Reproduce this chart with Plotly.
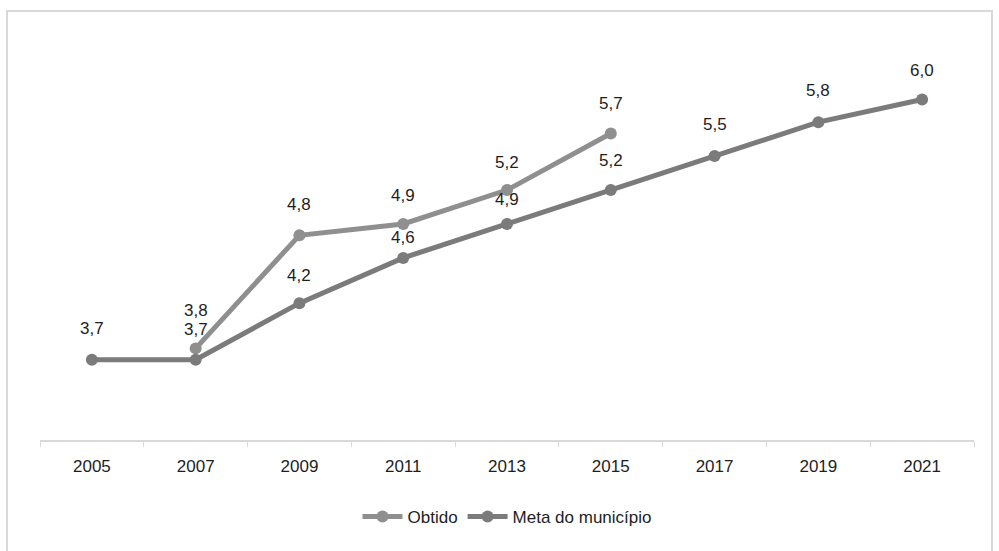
import plotly.graph_objects as go

anos = ["2005", "2007", "2009", "2011", "2013", "2015", "2017", "2019", "2021"]
obtido_anos = ["2007", "2009", "2011", "2013", "2015"]
obtido_vals = [3.8, 4.8, 4.9, 5.2, 5.7]
meta_anos = ["2005", "2007", "2009", "2011", "2013", "2015", "2017", "2019", "2021"]
meta_vals = [3.7, 3.7, 4.2, 4.6, 4.9, 5.2, 5.5, 5.8, 6.0]

# label offsets above the points, in pixels (style only)
obtido_label_shift = [38, 31, 28, 28, 30]
meta_label_shift = [31, 30, 28, 20, 24, 30, 32, 32, 29]

FONT = "Liberation Sans, Arial"
TXT = "#1e1e1e"
FS = 17


def fmt(v):
    return f"{v:.1f}".replace(".", ",")


fig = go.Figure()
fig.add_trace(go.Scatter(
    x=obtido_anos, y=obtido_vals, name="Obtido", mode="lines+markers",
    line=dict(color="#8f8f8f", width=5), marker=dict(size=12, color="#8f8f8f"),
))
fig.add_trace(go.Scatter(
    x=meta_anos, y=meta_vals, name="Meta do município", mode="lines+markers",
    line=dict(color="#7b7b7b", width=5), marker=dict(size=12, color="#7b7b7b"),
))

for xs, ys, shifts in [(obtido_anos, obtido_vals, obtido_label_shift),
                       (meta_anos, meta_vals, meta_label_shift)]:
    for xv, yv, sh in zip(xs, ys, shifts):
        fig.add_annotation(x=anos.index(xv), y=yv, xref="x", yref="y", text=fmt(yv),
                           showarrow=False, yanchor="middle", yshift=sh, borderpad=0,
                           font=dict(family=FONT, size=FS, color=TXT))

L, R, T, B = 40, 974, 43, 440
W, H = 999, 551
pw, ph = R - L, B - T
fig.add_shape(type="rect", xref="paper", yref="paper",
              x0=(7 - L) / pw, x1=(992 - L) / pw,
              y0=(B - 560) / ph, y1=(B - 11) / ph,
              line=dict(color="#d9d9d9", width=2), layer="below")

fig.update_layout(
    width=W, height=H,
    margin=dict(l=L, r=W - R, t=T, b=H - B),
    paper_bgcolor="white", plot_bgcolor="white",
    font=dict(family=FONT, size=FS, color=TXT),
    showlegend=True,
    legend=dict(orientation="h", x=0.5, xanchor="center", y=(B - 517) / ph, yanchor="middle",
                font=dict(family=FONT, size=FS, color=TXT), itemwidth=40),
    xaxis=dict(type="category", categoryorder="array", categoryarray=anos,
               range=[-0.5, 8.5], showgrid=False, showline=True, linecolor="#d9d9d9", linewidth=2,
               ticks="outside", tickson="boundaries", ticklen=5, tickcolor="#d9d9d9",
               ticklabelstandoff=10,
               tickfont=dict(family=FONT, size=FS, color=TXT), zeroline=False),
    yaxis=dict(range=[2.99, 6.5], visible=False, showgrid=False, zeroline=False),
)

fig.write_html("out.html")
